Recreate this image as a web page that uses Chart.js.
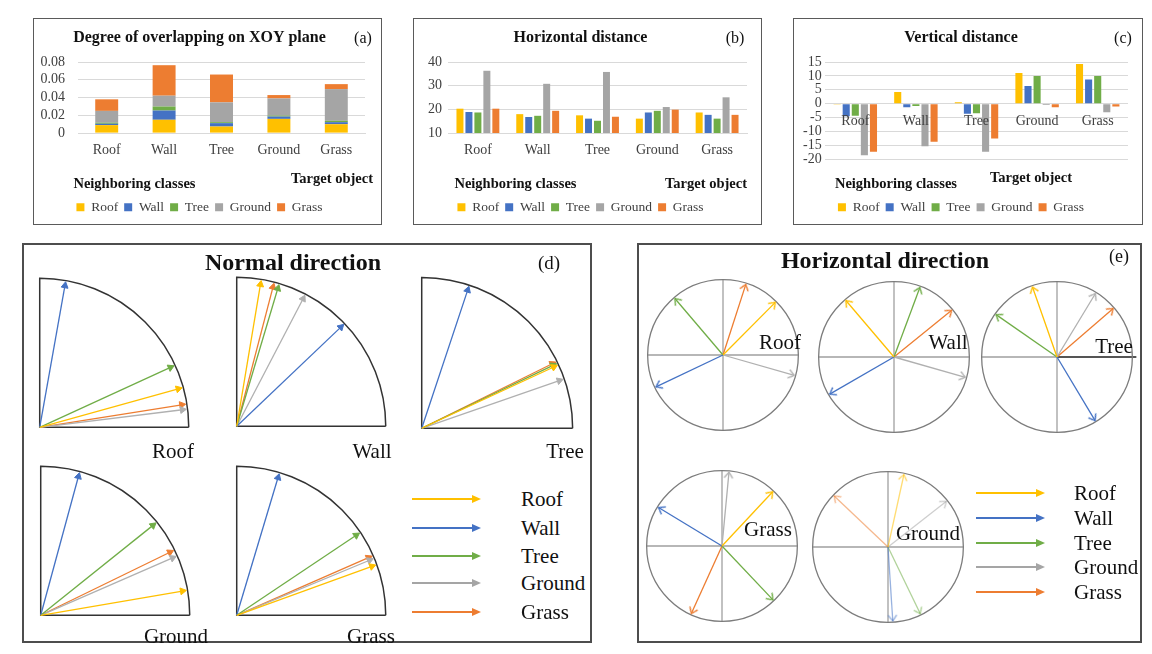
<!DOCTYPE html>
<html>
<head>
<meta charset="utf-8">
<script src="https://cdn.jsdelivr.net/npm/chart.js@4.4.0/dist/chart.umd.min.js"></script>
<style>
body { margin: 0; background: #fff; width: 1152px; height: 654px; position: relative; overflow: hidden;
       font-family: 'Liberation Serif', 'Times New Roman', serif; }
.box { position: absolute; box-sizing: border-box; }
canvas { position: absolute; }
.t { position: absolute; white-space: nowrap; line-height: 1; color: #111; }
</style>
</head>
<body>
<div class="box" style="left:33px;top:18px;width:349px;height:207px;border:1.5px solid #5a5a5a"></div>
<div class="box" style="left:413px;top:18px;width:349px;height:207px;border:1.5px solid #5a5a5a"></div>
<div class="box" style="left:793px;top:18px;width:350px;height:207px;border:1.5px solid #5a5a5a"></div>
<div class="box" style="left:22px;top:243px;width:570px;height:400px;border:2px solid #4d4d4d"></div>
<div class="box" style="left:637px;top:243px;width:505px;height:400px;border:2px solid #4d4d4d"></div>
<script>
// categories
var targets = ['Roof', 'Wall', 'Tree', 'Ground', 'Grass'];
var classes = ['Roof', 'Wall', 'Tree', 'Ground', 'Grass'];

// (a) degree of overlapping, one array per neighboring class, over the target objects
var overlapRoof   = [0.0090, 0.0150, 0.0074, 0.0160, 0.0100];
var overlapWall   = [0.0015, 0.0104, 0.0038, 0.0026, 0.0023];
var overlapTree   = [0.0012, 0.0045, 0.0011, 0.0011, 0.0015];
var overlapGround = [0.0133, 0.0122, 0.0223, 0.0193, 0.0357];
var overlapGrass  = [0.0130, 0.0343, 0.0313, 0.0038, 0.0056];

// (b) horizontal distance
var horRoof   = [20.3, 18.0, 17.5, 16.1, 18.7];
var horWall   = [18.9, 16.8, 16.1, 18.7, 17.7];
var horTree   = [18.7, 17.3, 15.2, 19.4, 16.1];
var horGround = [36.3, 30.8, 35.8, 21.0, 25.1];
var horGrass  = [20.3, 19.4, 16.9, 19.9, 17.7];

// (c) vertical distance
var verRoof   = [-0.3, 4.2, 0.5, 11.0, 14.3];
var verWall   = [-4.5, -1.3, -3.6, 6.4, 8.7];
var verTree   = [-4.3, -0.8, -3.4, 10.0, 10.0];
var verGround = [-18.5, -15.3, -17.3, -0.5, -3.1];
var verGrass  = [-17.3, -13.7, -12.5, -1.3, -1.0];

// (d) normal direction, angle above horizontal (deg) of each neighbor class [Roof, Wall, Tree, Ground, Grass]
var normalRoof   = [15.5, 79.9, 24.6, 7.0, 9.0];
var normalWall   = [80.5, 43.6, 73.4, 62.5, 75.4];
var normalTree   = [24.9, 71.6, 25.6, 19.1, 26.3];
var normalGround = [9.7, 74.8, 38.7, 23.5, 26.0];
var normalGrass  = [19.9, 73.3, 33.8, 22.5, 23.6];

// (e) horizontal direction, angle counter-clockwise from east (deg)
var horizRoof   = [45.2, 205.4, 130.4, -16.0, 72.1];
var horizWall   = [130.4, 210.0, 69.6, -15.9, 39.0];
var horizTree   = [109.3, -59.1, 145.2, 58.8, 40.8];
var horizGrass  = [46.9, 148.8, -46.6, 84.6, 245.6];
var horizGround = [77.6, -86.3, -64.2, 38.0, 136.5];

var classColors = ['#FFC000', '#4472C4', '#70AD47', '#A5A5A5', '#ED7D31'];
var serif = "'Liberation Serif', 'Times New Roman', serif";

function makeCanvas(left, top, w, h) {
    var c = document.createElement('canvas');
    c.width = w; c.height = h;
    c.style.left = left + 'px'; c.style.top = top + 'px';
    c.style.width = w + 'px'; c.style.height = h + 'px';
    document.body.appendChild(c);
    return c;
}

function text(str, x, y, size, bold, anchor) {
    var d = document.createElement('div');
    d.className = 't';
    d.textContent = str;
    d.style.fontSize = size + 'px';
    if (bold) d.style.fontWeight = 'bold';
    d.style.left = x + 'px';
    d.style.top = y + 'px';
    var tx = anchor == 'left' ? '0' : (anchor == 'right' ? '-100%' : '-50%');
    d.style.transform = 'translate(' + tx + ',-50%)';
    document.body.appendChild(d);
}

function legendArrow(x1, x2, y, color) {
    var line = document.createElement('div');
    line.style.cssText = 'position:absolute;left:' + x1 + 'px;top:' + (y - 0.75) + 'px;width:' + (x2 - x1 - 8) +
        'px;height:1.5px;background:' + color;
    var head = document.createElement('div');
    head.style.cssText = 'position:absolute;left:' + (x2 - 9) + 'px;top:' + (y - 4) + 'px;width:0;height:0;' +
        'border-left:9px solid ' + color + ';border-top:4px solid transparent;border-bottom:4px solid transparent';
    document.body.appendChild(line);
    document.body.appendChild(head);
}

function barChart(canvas, title, series, o) {
    return new Chart(canvas, {
        type: 'bar',
        data: {
            labels: targets,
            datasets: classes.map(function (c, i) {
                return { label: c, data: series[i], backgroundColor: classColors[i], borderWidth: 0 };
            })
        },
        options: {
            responsive: false,
            animation: false,
            devicePixelRatio: 1,
            events: [],
            layout: { padding: { left: 0, right: o.padRight, top: 0, bottom: 0 } },
            datasets: { bar: { categoryPercentage: o.catPct, barPercentage: o.barPct } },
            plugins: {
                title: {
                    display: true, text: title, color: '#111',
                    font: { family: serif, size: 16, weight: 'bold' },
                    padding: { top: 9, bottom: 14.8 }
                },
                legend: {
                    position: 'bottom',
                    labels: { boxWidth: 8, boxHeight: 8, padding: 6, color: '#404040', font: { family: serif, size: 13.5 } },
                    title: {
                        display: true, text: 'Neighboring classes', position: 'start', color: '#111',
                        font: { family: serif, size: 14.5, weight: 'bold' },
                        padding: { top: o.legTitleTop, bottom: 0 }
                    }
                },
                tooltip: { enabled: false }
            },
            scales: {
                x: {
                    stacked: o.stacked,
                    position: o.xPos,
                    grid: { display: false, drawTicks: false },
                    border: { display: o.xBorder, color: '#d9d9d9' },
                    ticks: { color: '#404040', padding: o.xPad, z: o.xZ, font: { family: serif, size: 14 } },
                    afterFit: function (s) { if (o.xHeight) s.height = o.xHeight; }
                },
                y: {
                    stacked: o.stacked,
                    min: o.min, max: o.max,
                    grid: { color: '#d9d9d9', drawTicks: false },
                    border: { display: false },
                    ticks: { stepSize: o.step, autoSkip: false, color: '#404040', padding: o.yPad, font: { family: serif, size: 14 } },
                    afterFit: function (s) { s.width = o.yWidth; }
                }
            }
        }
    });
}

// (a)
barChart(makeCanvas(34, 19, 346, 205), 'Degree of overlapping on XOY plane',
    [overlapRoof, overlapWall, overlapTree, overlapGround, overlapGrass],
    { stacked: true, min: 0, max: 0.08, step: 0.02, catPct: 0.8, barPct: 0.5, padRight: 15,
      yWidth: 44, yPad: 13, xHeight: 44, xPad: 9, xPos: 'bottom', xZ: 0, xBorder: true, legTitleTop: 0 });
// (b)
barChart(makeCanvas(414, 19, 347, 205), 'Horizontal distance',
    [horRoof, horWall, horTree, horGround, horGrass],
    { stacked: false, min: 10, max: 40, step: 10, catPct: 0.75, barPct: 0.78, padRight: 14,
      yWidth: 34, yPad: 6, xHeight: 44, xPad: 9, xPos: 'bottom', xZ: 0, xBorder: true, legTitleTop: 0 });
// (c)
barChart(makeCanvas(794, 19, 348, 205), 'Vertical distance',
    [verRoof, verWall, verTree, verGround, verGrass],
    { stacked: false, min: -20, max: 15, step: 5, catPct: 0.75, barPct: 0.78, padRight: 14,
      yWidth: 31, yPad: 3.3, xHeight: 0, xPad: 9, xPos: { y: 0 }, xZ: 1, xBorder: false, legTitleTop: 17.8 });

text('(a)', 363, 38, 16);
text('(b)', 735, 38, 16);
text('(c)', 1123, 38, 16);
text('Target object', 373, 178, 14.5, true, 'right');
text('Target object', 747, 183, 14.5, true, 'right');
text('Target object', 1072, 177, 14.5, true, 'right');

// frames for the direction diagrams
var framePlugin = {
    id: 'frame',
    beforeDatasetsDraw: function (chart, args, opts) {
        var ctx = chart.ctx, x = chart.scales.x, y = chart.scales.y;
        var cx = x.getPixelForValue(0), cy = y.getPixelForValue(0);
        var r = x.getPixelForValue(1) - cx;
        ctx.save();
        if (opts.kind == 'quarter') {
            ctx.strokeStyle = '#333';
            ctx.lineWidth = 1.5;
            ctx.beginPath();
            ctx.moveTo(cx + r, cy);
            ctx.lineTo(cx, cy);
            ctx.lineTo(cx, cy - r);
            ctx.arc(cx, cy, r, -Math.PI / 2, 0);
            ctx.stroke();
        } else {
            ctx.strokeStyle = '#a0a0a0';
            ctx.lineWidth = 1.3;
            ctx.beginPath();
            ctx.moveTo(cx - r, cy); ctx.lineTo(cx + r, cy);
            ctx.moveTo(cx, cy - r); ctx.lineTo(cx, cy + r);
            ctx.stroke();
            if (opts.darkRight) {
                ctx.strokeStyle = '#555';
                ctx.lineWidth = 2;
                ctx.beginPath();
                ctx.moveTo(cx, cy); ctx.lineTo(cx + r + 4, cy);
                ctx.stroke();
            }
            ctx.strokeStyle = '#7c7c7c';
            ctx.lineWidth = 1.3;
            ctx.beginPath();
            ctx.arc(cx, cy, r, 0, Math.PI * 2);
            ctx.stroke();
        }
        ctx.restore();
    }
};

function chevron(color) {
    var c = document.createElement('canvas');
    c.width = 16; c.height = 16;
    var g = c.getContext('2d');
    g.strokeStyle = color;
    g.lineWidth = 1.3;
    g.lineCap = 'round';
    g.beginPath();
    g.moveTo(4, 13.5); g.lineTo(8, 8); g.lineTo(12, 13.5);
    g.stroke();
    return c;
}

function fade(hex, a) {
    var n = parseInt(hex.slice(1), 16);
    return 'rgba(' + (n >> 16) + ',' + ((n >> 8) & 255) + ',' + (n & 255) + ',' + a + ')';
}

// o: {kind, len, min, max, open, alpha, darkRight}
function arrowChart(canvas, angles, o) {
    var datasets = classes.map(function (c, i) {
        var col = o.alpha ? fade(classColors[i], o.alpha) : classColors[i];
        if (i == 3 && !o.alpha) col = '#b0b0b0';
        var a = angles[i] * Math.PI / 180;
        return {
            label: c,
            data: [{ x: 0, y: 0 }, { x: o.len * Math.cos(a), y: o.len * Math.sin(a) }],
            showLine: true,
            borderColor: col,
            borderWidth: 1.3,
            pointRadius: [0, o.open ? 3 : 4],
            pointStyle: o.open ? chevron(col) : 'triangle',
            pointRotation: 90 - angles[i],
            pointBackgroundColor: col,
            pointBorderColor: col,
            pointBorderWidth: 1,
            clip: false
        };
    });
    return new Chart(canvas, {
        type: 'scatter',
        data: { datasets: datasets },
        options: {
            responsive: false,
            animation: false,
            devicePixelRatio: 1,
            events: [],
            layout: { padding: 0 },
            plugins: {
                legend: { display: false },
                tooltip: { enabled: false },
                frame: { kind: o.kind, darkRight: o.darkRight }
            },
            scales: {
                x: { type: 'linear', min: o.min, max: o.max, display: false },
                y: { type: 'linear', min: o.min, max: o.max, display: false }
            }
        },
        plugins: [framePlugin]
    });
}

// (d) quarter circles: origin pixel and radius
function quarter(ox, oy, R, angles) {
    var S = 176, off = 5;
    arrowChart(makeCanvas(ox - off, oy - (S - off), S, S), angles,
        { kind: 'quarter', len: 0.965, min: -off / R, max: (S - off) / R, open: false });
}
quarter(35, 432, 158, normalRoof);
quarter(232, 431, 158, normalWall);
quarter(417, 433, 160, normalTree);
quarter(36, 620, 158, normalGround);
quarter(232, 620, 158, normalGrass);

// (e) full circles: centre pixel and radius 80
function circle(cx, cy, angles, extra) {
    var S = 172, R = 80;
    var o = { kind: 'circle', len: 0.985, min: -(S / 2) / R, max: (S / 2) / R, open: true };
    if (extra) { o.alpha = extra.alpha; o.darkRight = extra.darkRight; }
    arrowChart(makeCanvas(cx - S / 2, cy - S / 2, S, S), angles, o);
}
circle(723, 355, horizRoof);
circle(894, 357, horizWall);
circle(1057, 357, horizTree, { darkRight: true });
circle(722, 546, horizGrass);
circle(888, 547, horizGround, { alpha: 0.55 });

// titles and labels of (d) and (e)
text('Normal direction', 293, 262, 24, true);
text('(d)', 549, 262, 19);
text('Horizontal direction', 885, 260, 24, true);
text('(e)', 1119, 256, 18);

text('Roof', 173, 451, 21);
text('Wall', 372, 451, 21);
text('Tree', 565, 451, 21);
text('Ground', 176, 636, 21);
text('Grass', 371, 636, 21);

text('Roof', 780, 342, 21);
text('Wall', 948, 342, 21);
text('Tree', 1114, 346, 21);
text('Grass', 768, 529, 21);
text('Ground', 928, 533, 21);

var dLegendY = [499, 528, 556, 583, 612];
var eLegendY = [493, 518, 543, 567, 592];
classes.forEach(function (c, i) {
    legendArrow(412, 481, dLegendY[i], classColors[i]);
    text(c, 521, dLegendY[i], 21, false, 'left');
    legendArrow(976, 1045, eLegendY[i], classColors[i]);
    text(c, 1074, eLegendY[i], 21, false, 'left');
});
</script>
</body>
</html>
